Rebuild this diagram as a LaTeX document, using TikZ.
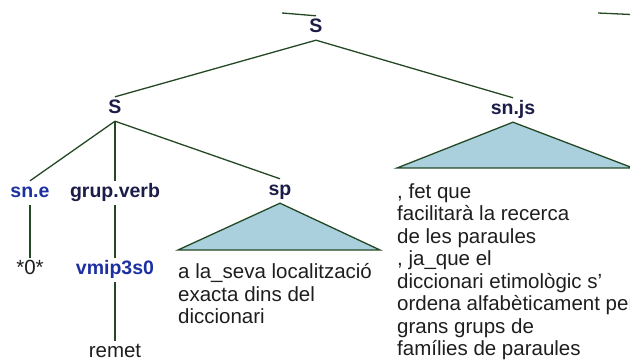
\documentclass[tikz,border=0pt]{standalone}
\usepackage{fontspec}
\setmainfont{Liberation Sans}
\definecolor{lblue}{RGB}{28,48,160}
\definecolor{ldark}{RGB}{28,28,72}
\definecolor{edgecol}{RGB}{36,72,36}
\definecolor{trifill}{RGB}{170,208,222}
\definecolor{txt}{RGB}{30,30,30}
\begin{document}
\begin{tikzpicture}[x=1pt,y=-1pt,
  lab/.style={inner sep=0pt, minimum height=24pt, text height=14pt, text depth=4pt, font=\fontsize{19.5}{22}\selectfont\bfseries},
  catlab/.style={lab, text=ldark},
  postag/.style={lab, text=lblue},
  wordlab/.style={inner sep=0pt, minimum height=24pt, text height=14pt, text depth=4pt, font=\fontsize{20.5}{22.5}\selectfont, text=txt},
  wblock/.style={inner sep=0pt, anchor=north west, align=left, font=\fontsize{20.5}{22.5}\selectfont, text=txt},
  branch/.style={draw=edgecol, line width=1.3pt},
  tri/.style={draw=edgecol, fill=trifill, line width=1.3pt, line join=miter}]
\useasboundingbox (0,0) rectangle (630,363);
% labels
\node[catlab] (S0) at (316,28) {S};
\node[catlab] (S1) at (115,109) {S};
\node[catlab] (snjs) at (513,110) {sn.js};
\node[postag] (sne) at (30,193) {sn.e};
\node[catlab] (gv) at (115,193) {grup.verb};
\node[catlab] (sp) at (280,191) {sp};
\node[wordlab] (zero) at (30,270) {*0*};
\node[postag] (vmip) at (115,270) {vmip3s0};
\node[wordlab] (remet) at (115,353) {remet};
% free ends and triangle corners
\coordinate (upL) at (282,13);
\coordinate (upR1) at (598,13);
\coordinate (upR2) at (631,14.5);
\coordinate (spL) at (178,250);
\coordinate (spR) at (380,250);
\coordinate (jsL) at (397,168);
\coordinate (jsR) at (633,168);
% branches
\draw[branch] (upL) -- (S0.north);
\draw[branch] (upR1) -- (upR2);
\draw[branch] (S0.south) -- (S1.north);
\draw[branch] (S0.south) -- (snjs.north);
\draw[branch] (S1.south) -- (sne.north);
\draw[branch] (S1.south) -- (gv.north);
\draw[branch] (S1.south) -- (sp.north);
\draw[branch] (sne.south) -- (zero.north);
\draw[branch] (gv.south) -- (vmip.north);
\draw[branch] (vmip.south) -- (remet.north);
\filldraw[tri] (sp.south) -- (spL) -- (spR) -- cycle;
\filldraw[tri] (snjs.south) -- (jsL) -- (jsR) -- cycle;
% leaf texts
\node[wblock] (sptext) at (178,262.75) {\strut a la\_seva localització\\exacta dins del\\diccionari};
\node[wblock] (jstext) at (397,182.25) {\strut, fet que\\facilitarà la recerca\\de les paraules\\, ja\_que el\\diccionari etimològic s’\\ordena alfabèticament per\\grans grups de\\famílies de paraules};
\end{tikzpicture}
\end{document}
